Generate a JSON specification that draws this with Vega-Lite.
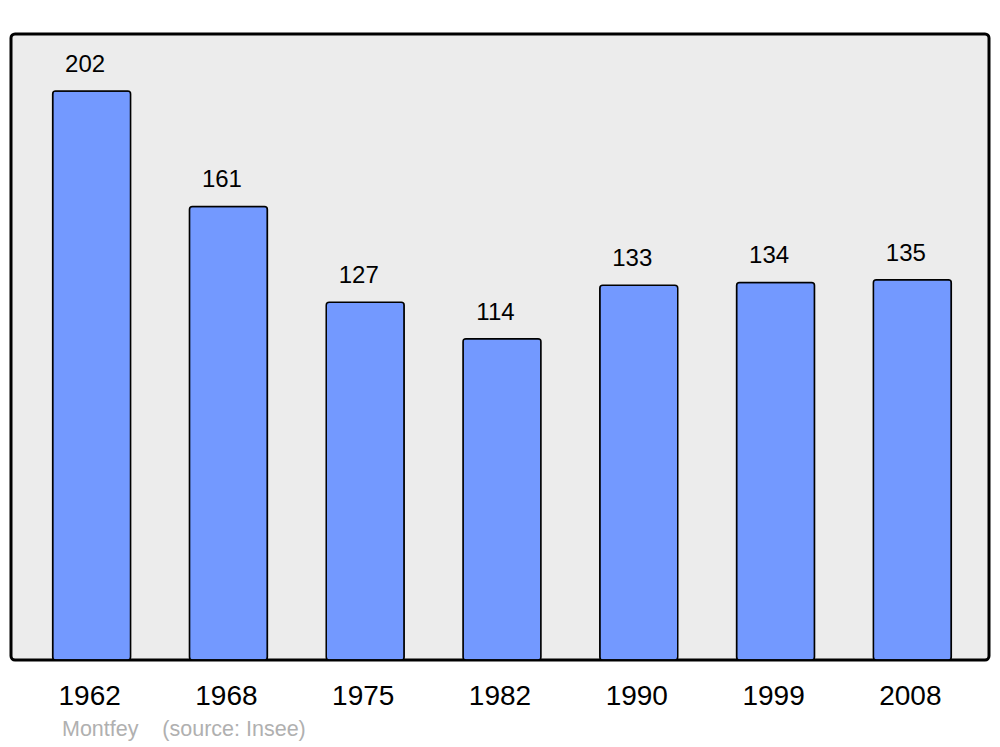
{
  "$schema": "https://vega.github.io/schema/vega-lite/v6.json",
  "width": 978,
  "height": 626,
  "autosize": {"type": "none"},
  "padding": {"left": 11, "top": 34, "right": 11, "bottom": 87},
  "background": "white",
  "config": {
    "font": "Liberation Sans",
    "view": {"fill": "#ececec", "stroke": "black", "strokeWidth": 3, "cornerRadius": 4}
  },
  "title": {
    "text": "Montfey\u00a0\u00a0\u00a0\u00a0(source: Insee)",
    "orient": "bottom",
    "anchor": "start",
    "font": "Liberation Sans",
    "fontSize": 21.5,
    "fontWeight": "normal",
    "color": "#b0b0b0",
    "dx": 51,
    "offset": 9
  },
  "data": {
    "values": [
      {"year": "1962", "population": 202},
      {"year": "1968", "population": 161},
      {"year": "1975", "population": 127},
      {"year": "1982", "population": 114},
      {"year": "1990", "population": 133},
      {"year": "1999", "population": 134},
      {"year": "2008", "population": 135}
    ]
  },
  "encoding": {
    "x": {
      "field": "year",
      "type": "ordinal",
      "sort": null,
      "scale": {"paddingInner": 0.43, "paddingOuter": 0.29, "align": 0.525},
      "axis": {
        "title": null,
        "labelAngle": 0,
        "labelFontSize": 28,
        "labelColor": "black",
        "labelFont": "Liberation Sans",
        "ticks": false,
        "tickSize": 0,
        "domain": false,
        "labelPadding": 22,
        "labelOffset": -2
      }
    },
    "y": {
      "field": "population",
      "type": "quantitative",
      "scale": {"domain": [0, 222.2], "nice": false},
      "axis": null
    }
  },
  "layer": [
    {
      "mark": {"type": "bar", "fill": "#7399ff", "stroke": "black", "strokeWidth": 1.5, "cornerRadius": 3}
    },
    {
      "mark": {"type": "text", "baseline": "alphabetic", "dy": -19, "dx": -6.5, "fontSize": 24, "color": "black", "font": "Liberation Sans"},
      "encoding": {"text": {"field": "population", "type": "quantitative"}}
    }
  ]
}
